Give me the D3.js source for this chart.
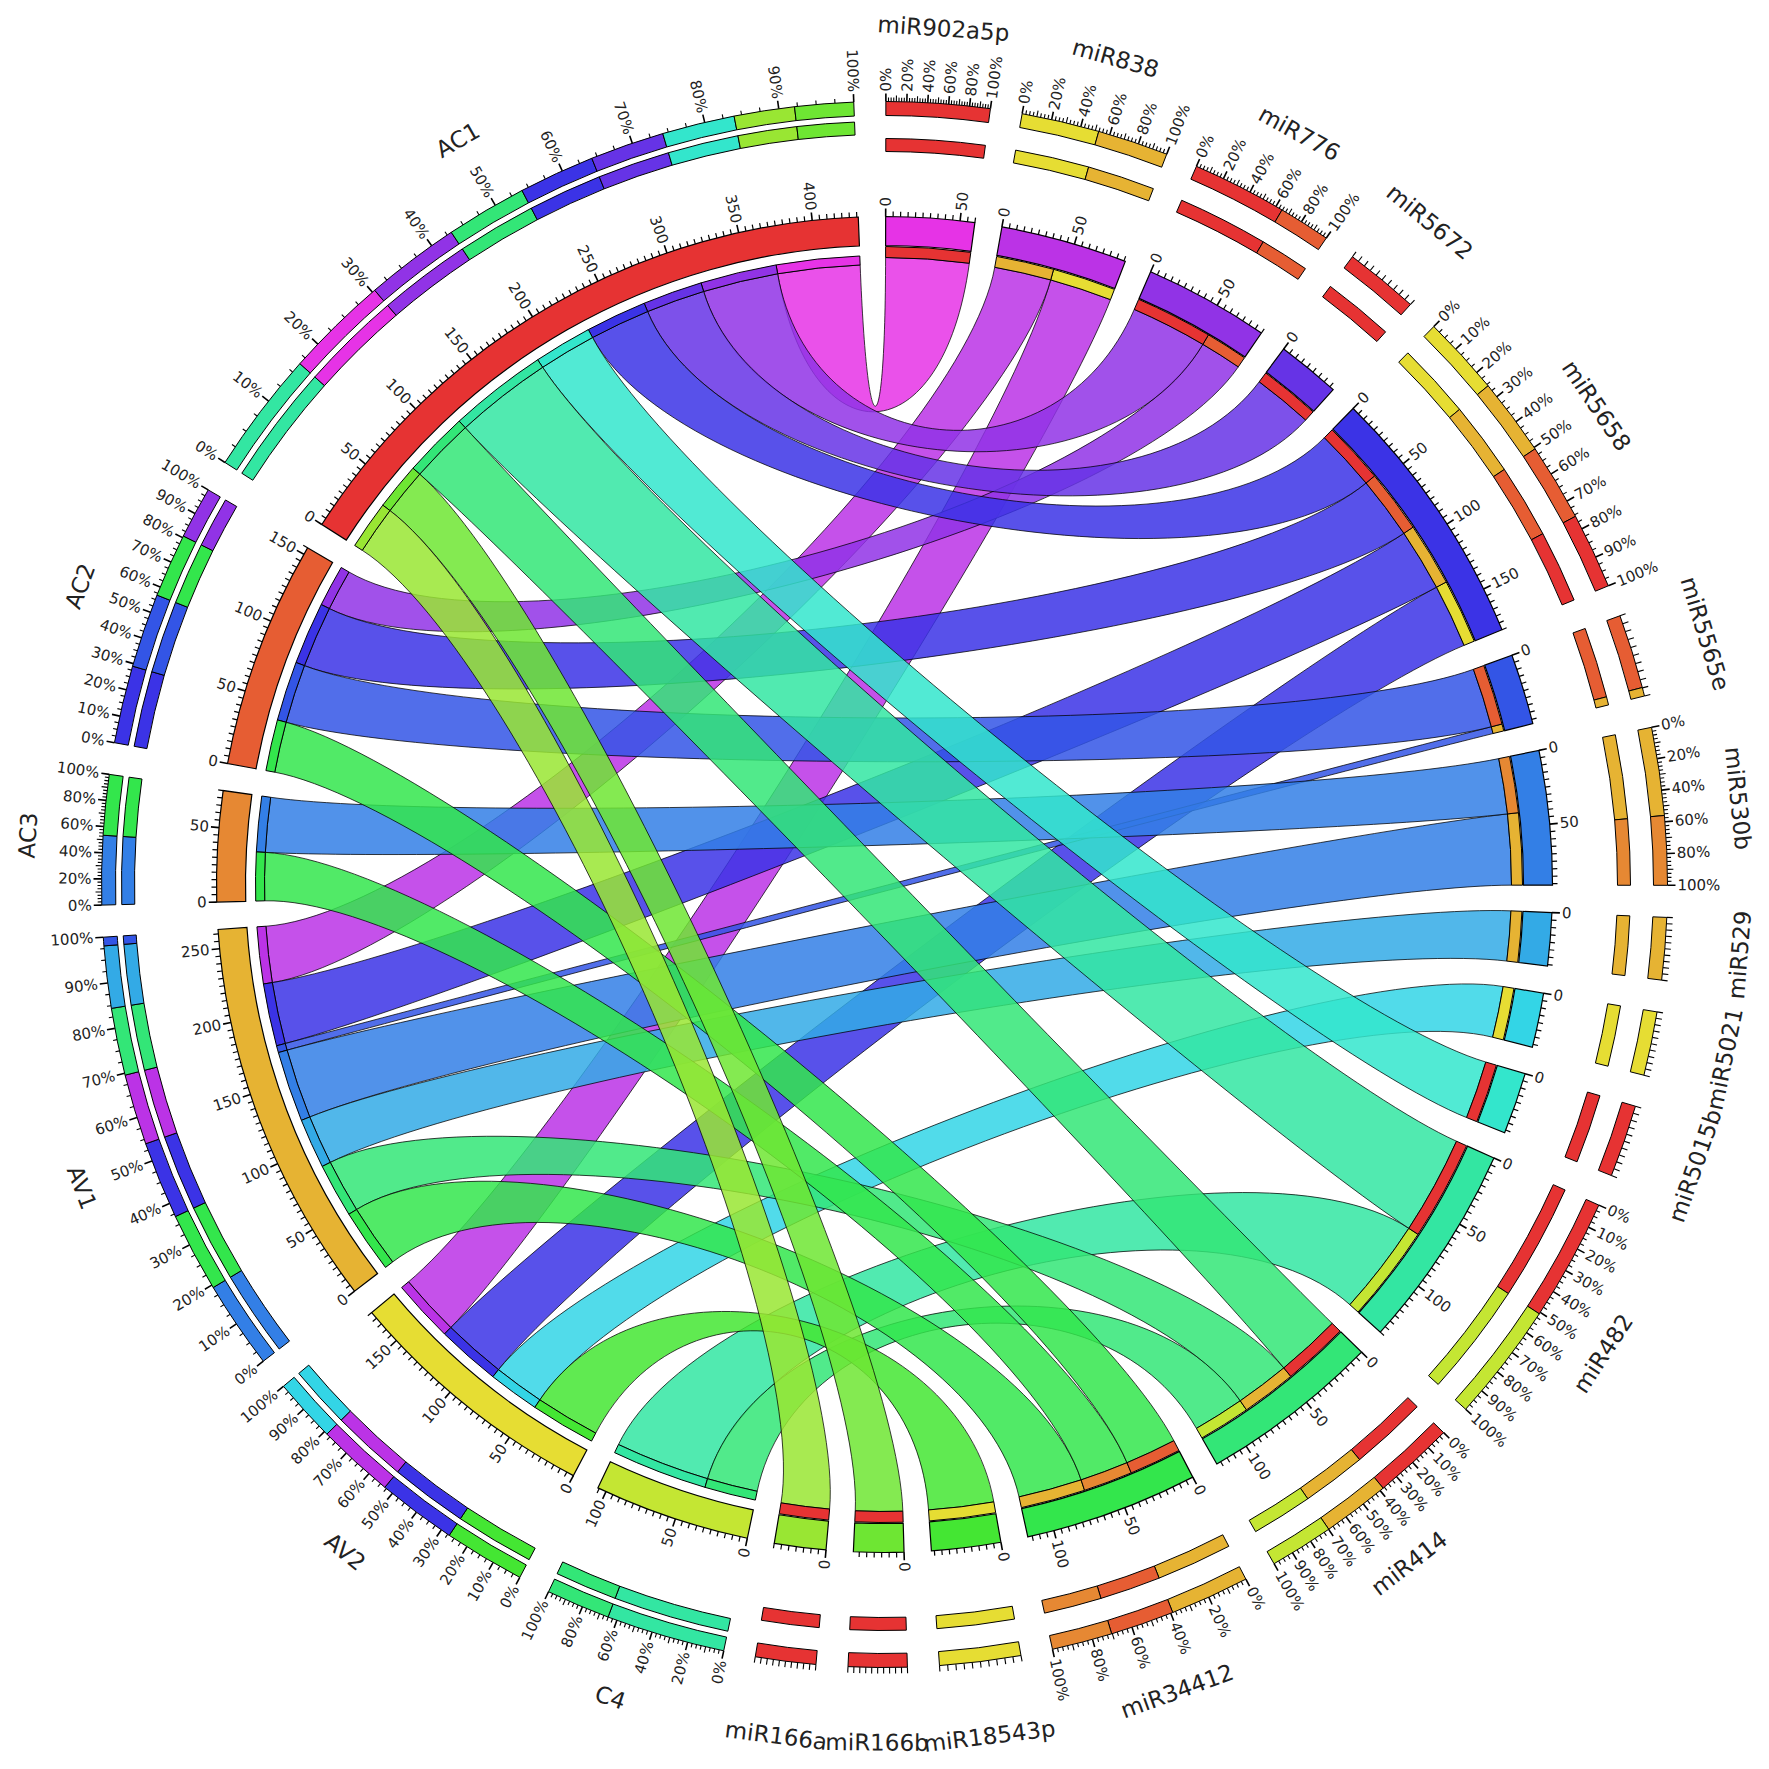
<!DOCTYPE html>
<html>
<head>
<meta charset="utf-8">
<script src="https://cdn.jsdelivr.net/npm/d3@7"></script>
<style>
  body { margin: 0; background: #fff; }
  text { font-family: "DejaVu Sans", sans-serif; fill: #222; }
</style>
</head>
<body>
<svg id="chart" width="1769" height="1769"></svg>
<script>
// rows (miRNA), clockwise from the top
const rowNames = ["miR902a5p", "miR838", "miR776", "miR5672", "miR5658", "miR5565e",
  "miR530b", "miR529", "miR5021", "miR5015b", "miR482", "miR414", "miR34412",
  "miR18543p", "miR166b", "miR166a"];
// columns, clockwise after the rows
const colNames = ["C4", "AV2", "AV1", "AC3", "AC2", "AC1"];

// cell values per column, one entry per row (same order as rowNames)
const AC1 = [60, 0, 55, 43, 44, 0, 0, 0, 0, 42, 71, 47, 0, 0, 34, 35];
const AC2 = [0, 0, 30, 0, 45, 43, 0, 0, 0, 0, 0, 0, 37, 0, 0, 0];
const AC3 = [0, 0, 0, 0, 0, 0, 40, 0, 0, 0, 0, 0, 35, 0, 0, 0];
const AV1 = [0, 41, 0, 0, 45, 5, 51, 36, 0, 0, 0, 39, 46, 0, 0, 0];
const AV2 = [0, 45, 0, 0, 46, 0, 0, 0, 37, 0, 0, 0, 0, 47, 0, 0];
const C4  = [0, 0, 0, 0, 0, 0, 0, 0, 0, 0, 69, 37, 0, 0, 0, 0];
const colData = { AC1: AC1, AC2: AC2, AC3: AC3, AV1: AV1, AV2: AV2, C4: C4 };

var cx = 884.5, cy = 884.5;
var GAP = 2.35, START = 0.1;              // degrees
var R_BAND = [639, 668];
var R_ROW_STRIP = [627, 638], R_COL_STRIP = [620, 629];
var BAR_OUT = [769, 783];
var BAR_IN_ROW = [733, 746], BAR_IN_COL = [750, 763];
var R_NAME = 858;

var rad = function (d) { return d * Math.PI / 180; };
var arc = d3.arc();

var svg = d3.select("#chart");
var g = svg.append("g").attr("transform", "translate(" + cx + "," + cy + ")");

// segments
var segs = [];
rowNames.forEach(function (n, i) { segs.push({ name: n, kind: "row", row: i }); });
colNames.forEach(function (n) { segs.push({ name: n, kind: "col" }); });
segs.forEach(function (s, k) {
    s.k = k;
    s.color = d3.hsl(300 - k * 300 / (segs.length - 1), 0.78, 0.55).toString();
});

// links row -> column
var links = [];
rowNames.forEach(function (n, i) {
    colNames.forEach(function (c, j) {
        var v = colData[c][i];
        if (v > 0) links.push({ src: segs[i], dst: segs[rowNames.length + j], value: v });
    });
});

segs.forEach(function (s) {
    s.total = d3.sum(links, function (l) { return (l.src === s || l.dst === s) ? l.value : 0; });
});
var unit = (360 - segs.length * GAP) / d3.sum(segs, function (s) { return s.total; });
var a = START;
segs.forEach(function (s) {
    s.start = a;
    s.end = a + s.total * unit;
    s.scale = d3.scaleLinear().domain([0, s.total]).range([s.start, s.end]);
    s.pct = d3.scaleLinear().domain([0, 1]).range([s.start, s.end]);
    a = s.end + GAP;
});

// ribbon slots: ordered by the other end, farthest clockwise first
segs.forEach(function (s) {
    var ls = links.filter(function (l) { return l.src === s || l.dst === s; })
        .map(function (l) { return { l: l, other: l.src === s ? l.dst : l.src }; });
    ls.sort(function (p, q) { return q.other.k - p.other.k; });
    var off = 0;
    ls.forEach(function (o) {
        var slot = [off, off + o.l.value];
        if (o.l.src === s) o.l.srcSlot = slot; else o.l.dstSlot = slot;
        off += o.l.value;
    });
    // composition, biggest first
    s.parts = ls.map(function (o) { return { other: o.other, value: o.l.value }; })
        .sort(function (p, q) { return (q.value - p.value) || (p.other.k - q.other.k); });
});

function pt(ang, r) { return [r * Math.sin(ang), -r * Math.cos(ang)]; }

function ribbon(a0, a1, r0, b0, b1, r1) {
    var p = d3.path(), k = 0.69;
    var s0 = pt(a0, r0), e0 = pt(b0, r1);
    p.moveTo(s0[0], s0[1]);
    p.arc(0, 0, r0, a0 - Math.PI / 2, a1 - Math.PI / 2);
    var c1 = pt(a1, r0 * k), c2 = pt(b0, r1 * k);
    p.bezierCurveTo(c1[0], c1[1], c2[0], c2[1], e0[0], e0[1]);
    p.arc(0, 0, r1, b0 - Math.PI / 2, b1 - Math.PI / 2);
    var c3 = pt(b1, r1 * k), c4 = pt(a0, r0 * k);
    p.bezierCurveTo(c3[0], c3[1], c4[0], c4[1], s0[0], s0[1]);
    p.closePath();
    return p.toString();
}

// ribbons
g.append("g").selectAll("path")
    .data(links)
    .enter().append("path")
    .attr("d", function (l) {
        return ribbon(rad(l.src.scale(l.srcSlot[0])), rad(l.src.scale(l.srcSlot[1])), R_ROW_STRIP[0],
                      rad(l.dst.scale(l.dstSlot[0])), rad(l.dst.scale(l.dstSlot[1])), R_COL_STRIP[0]);
    })
    .attr("fill", function (l) { return l.src.color; })
    .attr("fill-opacity", 0.85)
    .attr("stroke", "#000")
    .attr("stroke-opacity", 0.75)
    .attr("stroke-width", 1);

// ribbon end strips
var strips = g.append("g");
links.forEach(function (l) {
    strips.append("path")
        .attr("d", arc({ innerRadius: R_ROW_STRIP[0], outerRadius: R_ROW_STRIP[1],
            startAngle: rad(l.src.scale(l.srcSlot[0])), endAngle: rad(l.src.scale(l.srcSlot[1])) }))
        .attr("fill", l.dst.color).attr("stroke", "#000").attr("stroke-width", 1);
    strips.append("path")
        .attr("d", arc({ innerRadius: R_COL_STRIP[0], outerRadius: R_COL_STRIP[1],
            startAngle: rad(l.dst.scale(l.dstSlot[0])), endAngle: rad(l.dst.scale(l.dstSlot[1])) }))
        .attr("fill", l.src.color).attr("stroke", "#000").attr("stroke-width", 1);
});

// segment bands
g.append("g").selectAll("path")
    .data(segs)
    .enter().append("path")
    .attr("d", function (s) {
        return arc({ innerRadius: R_BAND[0], outerRadius: R_BAND[1],
            startAngle: rad(s.start), endAngle: rad(s.end) });
    })
    .attr("fill", function (s) { return s.color; })
    .attr("stroke", "#000").attr("stroke-width", 1.2);

// radial text helper
function radialText(sel, ang, r, txt, size) {
    var t = sel.append("text")
        .attr("font-size", size)
        .attr("dominant-baseline", "central")
        .text(txt);
    var m = ((ang % 360) + 360) % 360;
    if (m < 180) {
        t.attr("text-anchor", "start")
         .attr("transform", "rotate(" + (ang - 90) + ") translate(" + r + ",0)");
    } else {
        t.attr("text-anchor", "end")
         .attr("transform", "rotate(" + (ang - 90) + ") translate(" + r + ",0) rotate(180)");
    }
}

function tick(sel, ang, r0, r1, w) {
    var p0 = pt(rad(ang), r0), p1 = pt(rad(ang), r1);
    sel.append("line")
        .attr("x1", p0[0]).attr("y1", p0[1]).attr("x2", p1[0]).attr("y2", p1[1])
        .attr("stroke", "#000").attr("stroke-width", w);
}

// count ticks on the bands
var ticks = g.append("g");
segs.forEach(function (s) {
    d3.range(0, s.total + 0.001, 5).forEach(function (v) {
        var major = v % 50 === 0;
        tick(ticks, s.scale(v), R_BAND[1], R_BAND[1] + (major ? 8 : 5), major ? 1.6 : 1.2);
        if (major) radialText(ticks, s.scale(v), R_BAND[1] + 10, v, 15);
    });
});

// percentage bars
var bars = g.append("g");
segs.forEach(function (s) {
    var barIn = s.kind === "row" ? BAR_IN_ROW : BAR_IN_COL;
    var acc = 0;
    s.parts.forEach(function (p) {
        var f0 = acc / s.total, f1 = (acc + p.value) / s.total;
        [BAR_OUT, barIn].forEach(function (rr) {
            bars.append("path")
                .attr("d", arc({ innerRadius: rr[0], outerRadius: rr[1],
                    startAngle: rad(s.pct(f0)), endAngle: rad(s.pct(f1)) }))
                .attr("fill", p.other.color)
                .attr("stroke", "#000").attr("stroke-width", 1);
        });
        acc += p.value;
    });

    var span = s.end - s.start, step, lab;
    if (span < 7) { step = 10; lab = 0; }
    else if (span < 15.4) { step = 2.5; lab = 20; }
    else { step = 2.5; lab = 10; }
    d3.range(0, 100.001, step).forEach(function (q) {
        var major = lab && Math.abs(q - Math.round(q / lab) * lab) < 0.01;
        var mid = Math.abs(q - Math.round(q / 10) * 10) < 0.01;
        tick(bars, s.pct(q / 100), BAR_OUT[1], BAR_OUT[1] + (major ? 8 : (mid ? 6 : 4)), major ? 1.6 : 1.1);
        if (major) radialText(bars, s.pct(q / 100), BAR_OUT[1] + 10, Math.round(q) + "%", 15);
    });
});

// segment names
g.append("g").selectAll("text")
    .data(segs)
    .enter().append("text")
    .attr("font-size", 23)
    .attr("text-anchor", "middle")
    .attr("dominant-baseline", "central")
    .attr("transform", function (s) {
        var m = (s.start + s.end) / 2;
        var flip = Math.cos(rad(m)) < 0 ? " rotate(180)" : "";
        return "rotate(" + m + ") translate(0," + (-R_NAME) + ")" + flip;
    })
    .text(function (s) { return s.name; });
</script>
</body>
</html>
